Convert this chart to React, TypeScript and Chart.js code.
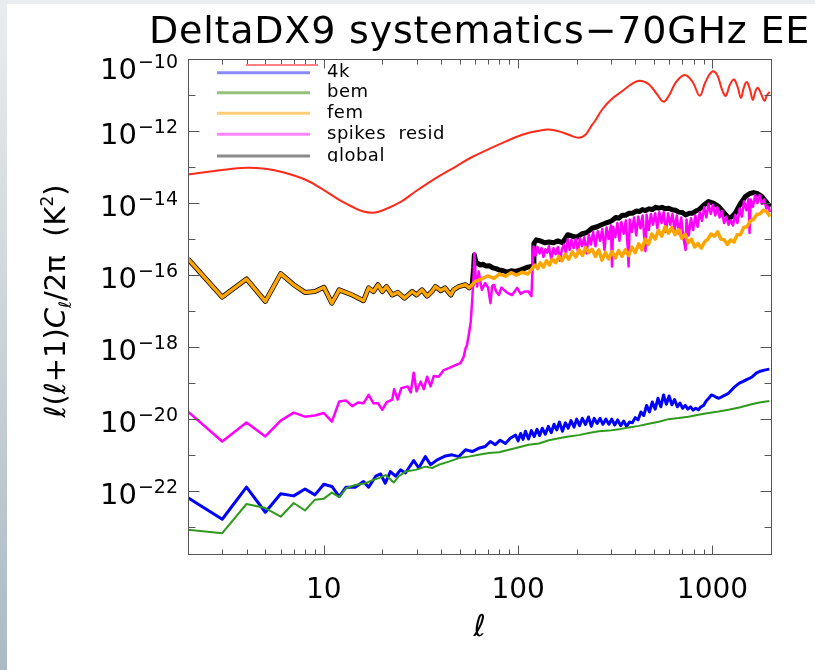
import React, { useEffect, useRef } from 'react';
import { Chart, registerables } from 'chart.js';

Chart.register(...registerables);

const TITLE = 'DeltaDX9 systematics\u221270GHz EE';
const X_TICK_LABELS = [10, 100, 1000];
const X_MINOR_TICKS = [2, 3, 4, 5, 6, 7, 8, 9, 20, 30, 40, 50, 60, 70, 80, 90, 200, 300, 400, 500, 600, 700, 800, 900];
const Y_DECADES = [-23, -22, -21, -20, -19, -18, -17, -16, -15, -14, -13, -12, -11, -10];
const Y_LABELED = [-10, -12, -14, -16, -18, -20, -22];
const LEGEND_NAMES = ['4k', 'bem', 'fem', 'spikes  resid', 'global'];
const LEGEND_COLORS = ['#8a8aff', '#93c07a', '#ffcc7a', '#ff85ff', '#8a8a8a'];

// EE reference spectrum (red)
const redEll = [2, 3, 4, 5, 6, 8, 10, 12, 14, 16, 18, 20, 25, 30, 39, 48, 58, 71, 86, 105, 128, 144, 162, 182, 205, 222, 240, 250, 270, 300, 340, 380, 420, 470, 520, 560, 600, 650, 720, 790, 860, 920, 1000, 1060, 1120, 1170, 1230, 1290, 1350, 1400, 1450, 1500, 1560, 1610, 1660, 1710, 1780, 1850, 1900, 1970];
const redVal = [6.2e-14, 8.3e-14, 9.5e-14, 8.9e-14, 7.4e-14, 4.5e-14, 2.3e-14, 1.23e-14, 7.9e-15, 5.8e-15, 5.4e-15, 6.2e-15, 1.1e-14, 2.2e-14, 5.5e-14, 1.05e-13, 1.9e-13, 3.2e-13, 5.1e-13, 7.9e-13, 1.02e-12, 1.1e-12, 9.8e-13, 7.9e-13, 6.5e-13, 7.9e-13, 1.48e-12, 2.0e-12, 3.9e-12, 7.4e-12, 1.23e-11, 1.95e-11, 2.5e-11, 2.0e-11, 1.02e-11, 6.5e-12, 1.02e-11, 2.3e-11, 3.6e-11, 2.3e-11, 9.5e-12, 2.3e-11, 4.5e-11, 3.5e-11, 1.4e-11, 9.5e-12, 1.95e-11, 2.7e-11, 1.6e-11, 8.3e-12, 1.6e-11, 2.3e-11, 1.4e-11, 7.4e-12, 1.23e-11, 1.6e-11, 1.07e-11, 6.9e-12, 9.5e-12, 1.23e-11];

// 4k (blue)
const k4Ell = [2, 3, 4, 5, 6, 7, 8, 9, 10, 11, 12, 13, 14.5, 16, 17, 18.5, 19.6, 20.7, 22, 23.4, 24.8, 26.3, 29, 30.8, 33.3, 35.4, 38.3, 42.3, 45.7, 49.5, 53.6, 58, 62.6, 67.7, 71.9, 76.3, 80.8, 86, 91, 97, 100, 103, 106, 109, 113, 117, 121, 125, 129, 133, 138, 143, 148, 153, 158, 163, 169, 175, 181, 187, 194, 200, 207, 214, 222, 230, 238, 246, 255, 264, 273, 283, 293, 303, 314, 325, 337, 349, 361, 374, 387, 400, 414, 428, 443, 458, 474, 490, 507, 524, 542, 560, 579, 598, 618, 638, 659, 680, 702, 724, 747, 771, 795, 820, 846, 872, 900, 928, 957, 987, 1017, 1050, 1080, 1140, 1209, 1290, 1374, 1440, 1514, 1560, 1604, 1680, 1743, 1850, 1961];
const k4Val = [6.6e-23, 1.66e-23, 1.29e-22, 2.6e-23, 8.5e-23, 7.4e-23, 1.15e-22, 7.9e-23, 1.55e-22, 1.35e-22, 7.1e-23, 1.29e-22, 1.29e-22, 1.86e-22, 1.29e-22, 2.6e-22, 3.0e-22, 1.66e-22, 3.5e-22, 2.6e-22, 3.9e-22, 3.2e-22, 7.1e-22, 4.4e-22, 9.1e-22, 5.4e-22, 7.4e-22, 9.5e-22, 1.02e-21, 9.1e-22, 1.41e-21, 1.26e-21, 1.55e-21, 1.74e-21, 2.4e-21, 1.95e-21, 2.6e-21, 2.1e-21, 2.95e-21, 3.6e-21, 2.5e-21, 4.0e-21, 2.75e-21, 4.6e-21, 2.8e-21, 4.8e-21, 3.3e-21, 5.2e-21, 3.5e-21, 5.6e-21, 3.8e-21, 6.3e-21, 4.2e-21, 7.2e-21, 5.0e-21, 8.3e-21, 4.6e-21, 7.9e-21, 5.6e-21, 9.1e-21, 6.0e-21, 1.0e-20, 6.6e-21, 1.05e-20, 7.1e-21, 1.15e-20, 6.3e-21, 1.05e-20, 7.6e-21, 1.05e-20, 7.2e-21, 1.0e-20, 7.2e-21, 1.0e-20, 6.9e-21, 9.5e-21, 6.6e-21, 8.9e-21, 6.3e-21, 8.3e-21, 7.9e-21, 1.1e-20, 9.5e-21, 1.58e-20, 1.26e-20, 2.4e-20, 1.58e-20, 3.0e-20, 1.9e-20, 3.8e-20, 2.2e-20, 4.7e-20, 2.6e-20, 4.4e-20, 2.5e-20, 3.5e-20, 2.2e-20, 2.8e-20, 2.0e-20, 2.4e-20, 1.9e-20, 2.2e-20, 1.78e-20, 2.0e-20, 1.82e-20, 2.2e-20, 2.4e-20, 3.2e-20, 3.8e-20, 4.7e-20, 4.4e-20, 4.0e-20, 3.8e-20, 4.4e-20, 5.2e-20, 7.6e-20, 1.0e-19, 1.12e-19, 1.29e-19, 1.38e-19, 1.51e-19, 1.9e-19, 2.1e-19, 2.3e-19, 2.45e-19];

// bem (green)
const bemEll = [2, 3, 4, 5, 6, 7, 8, 9, 10, 11, 12, 13, 14.5, 16.4, 17.7, 19.2, 20.8, 22.9, 24.3, 26.3, 29.7, 33.3, 36.1, 39, 44, 49.5, 55.7, 62.6, 70.6, 79.6, 89.8, 101, 113, 128, 144, 162, 182, 205, 231, 260, 293, 330, 371, 418, 470, 529, 594, 669, 752, 847, 953, 1074, 1209, 1374, 1551, 1743, 1961];
const bemVal = [8.5e-24, 6.8e-24, 4.4e-23, 3.4e-23, 1.95e-23, 4.7e-23, 2.9e-23, 5.8e-23, 6.2e-23, 9.1e-23, 6.8e-23, 1.2e-22, 1.48e-22, 1.66e-22, 2.0e-22, 2.3e-22, 2.8e-22, 1.74e-22, 2.6e-22, 3.5e-22, 3.9e-22, 4.8e-22, 4.4e-22, 5.4e-22, 6.6e-22, 8.3e-22, 9.1e-22, 1.02e-21, 1.15e-21, 1.2e-21, 1.41e-21, 1.66e-21, 1.95e-21, 2.1e-21, 2.6e-21, 2.95e-21, 3.3e-21, 3.6e-21, 4.1e-21, 4.6e-21, 4.8e-21, 5.2e-21, 5.9e-21, 6.5e-21, 7.4e-21, 8.5e-21, 1.0e-20, 1.07e-20, 1.17e-20, 1.32e-20, 1.48e-20, 1.62e-20, 1.82e-20, 2.1e-20, 2.5e-20, 2.9e-20, 3.2e-20];

// fem (orange)
const femEll = [2, 3, 4, 5, 6, 7, 8, 9, 10, 11, 12, 14, 16, 17, 18, 19, 20, 21, 22.5, 24, 26, 28.5, 30, 32, 34, 36, 37.5, 40, 42, 45, 46.5, 49.5, 53.5, 56, 58, 60, 65, 70, 75, 80, 86, 92, 98, 105, 112, 118, 122, 126, 130, 135, 140, 145, 150, 156, 162, 168, 175, 182, 190, 198, 206, 214, 222, 231, 240, 250, 260, 270, 281, 292, 304, 316, 329, 342, 356, 370, 385, 400, 417, 433, 450, 468, 487, 507, 527, 548, 570, 593, 617, 642, 668, 695, 722, 750, 780, 810, 842, 875, 910, 946, 984, 1023, 1063, 1105, 1148, 1193, 1240, 1289, 1340, 1392, 1447, 1504, 1563, 1625, 1689, 1755, 1824, 1896, 1940, 1975];
const femVal = [2.8e-16, 2.45e-17, 7.8e-17, 1.86e-17, 1.1e-16, 5.4e-17, 3.3e-17, 3.5e-17, 4.6e-17, 1.66e-17, 3.9e-17, 2.8e-17, 1.95e-17, 4.4e-17, 3.5e-17, 5.4e-17, 3.5e-17, 4.8e-17, 2.8e-17, 3.3e-17, 2.3e-17, 3.5e-17, 2.8e-17, 3.9e-17, 2.6e-17, 3.5e-17, 4.8e-17, 3.7e-17, 4.4e-17, 2.8e-17, 3.9e-17, 4.8e-17, 5.4e-17, 4.4e-17, 5.4e-17, 6.6e-17, 7.9e-17, 9.5e-17, 8.1e-17, 1.07e-16, 9.3e-17, 1.17e-16, 1.0e-16, 1.2e-16, 1.07e-16, 1.51e-16, 1.9e-16, 1.51e-16, 2.2e-16, 1.66e-16, 2.5e-16, 1.9e-16, 2.8e-16, 2.2e-16, 3.3e-16, 2.5e-16, 3.8e-16, 2.75e-16, 4.4e-16, 3.2e-16, 5.0e-16, 3.5e-16, 5.8e-16, 4.2e-16, 5.2e-16, 3.3e-16, 5.0e-16, 2.6e-16, 4.2e-16, 2.8e-16, 4.5e-16, 3.0e-16, 4.8e-16, 3.3e-16, 5.0e-16, 3.5e-16, 6.0e-16, 4.2e-16, 7.4e-16, 5.0e-16, 1.0e-15, 7.1e-16, 1.38e-15, 1.0e-15, 1.74e-15, 1.2e-15, 2.2e-15, 1.45e-15, 2.1e-15, 1.32e-15, 1.82e-15, 1.05e-15, 1.38e-15, 7.9e-16, 1.0e-15, 6.0e-16, 7.6e-16, 5.6e-16, 8.3e-16, 1.0e-15, 1.38e-15, 1.2e-15, 1.58e-15, 1.0e-15, 9.5e-16, 7.1e-16, 9.5e-16, 8.3e-16, 1.32e-15, 1.32e-15, 2.1e-15, 2.2e-15, 3.2e-15, 3.5e-15, 4.8e-15, 5.0e-15, 6.3e-15, 5.8e-15, 5.0e-15, 4.2e-15];

// spikes resid (magenta)
const spkEll = [2, 3, 4, 5, 6, 7, 8, 9, 10, 11, 12, 13, 14, 15, 16, 17, 18, 19, 20, 21, 22.5, 23, 24, 25, 27, 28, 29, 30, 31.5, 32.7, 34, 35.4, 36.8, 39, 41.4, 44, 46.6, 50.5, 52.5, 53.6, 54.5, 55.7, 57, 58, 59, 59.5, 60.5, 61.5, 62.6, 64, 65, 67.7, 70, 72, 73.5, 75, 77, 79.6, 82, 84.4, 88, 93, 98.8, 103, 108, 113, 117, 120, 123, 126, 129, 132, 135, 138, 141, 144, 148, 152, 156, 160, 164, 168, 172, 176, 180, 184, 188, 193, 198, 203, 208, 213, 219, 225, 231, 237, 243, 250, 257, 264, 271, 278, 285, 292, 300, 304, 308, 316, 324, 332, 340, 349, 358, 366, 370, 375, 385, 395, 405, 415, 426, 437, 447, 452, 458, 470, 482, 494, 507, 520, 533, 547, 561, 576, 591, 606, 622, 638, 655, 672, 690, 708, 727, 735, 755, 775, 795, 816, 838, 860, 883, 906, 930, 954, 980, 1006, 1033, 1060, 1088, 1117, 1147, 1178, 1209, 1241, 1274, 1308, 1343, 1379, 1416, 1454, 1493, 1533, 1551, 1573, 1615, 1658, 1702, 1748, 1795, 1843, 1892, 1942, 1975];
const spkVal = [1.62e-20, 2.4e-21, 8.1e-21, 3.3e-21, 9.1e-21, 1.51e-20, 1.17e-20, 1.26e-20, 1.48e-20, 8.5e-21, 3.1e-20, 3.3e-20, 2.3e-20, 2.9e-20, 2.75e-20, 4.7e-20, 2.75e-20, 2.75e-20, 1.82e-20, 2.9e-20, 3.5e-20, 6.8e-20, 3.5e-20, 7.2e-20, 8.1e-20, 5.5e-20, 1.95e-19, 5.9e-20, 1.1e-19, 6.8e-20, 1.51e-19, 8.1e-20, 1.58e-19, 1.51e-19, 2.3e-19, 2.6e-19, 3.0e-19, 3.6e-19, 5.5e-19, 9.3e-19, 1.12e-18, 2.2e-18, 5.0e-18, 2.0e-17, 1.0e-16, 4.1e-16, 7.9e-17, 4.8e-17, 1.26e-16, 6.3e-17, 3.9e-17, 6.0e-17, 4.5e-17, 1.66e-17, 5.0e-17, 5.4e-17, 3.5e-17, 2.8e-17, 4.5e-17, 3.9e-17, 3.2e-17, 2.8e-17, 4.4e-17, 3.0e-17, 3.5e-17, 3.5e-17, 2.6e-17, 6.2e-16, 3.5e-16, 6.0e-16, 4.0e-16, 5.6e-16, 3.2e-16, 5.2e-16, 4.2e-16, 6.3e-16, 2.8e-16, 5.6e-16, 3.8e-16, 6.0e-16, 2.5e-16, 5.2e-16, 7.1e-16, 4.0e-16, 1.0e-15, 5.0e-16, 9.5e-16, 5.6e-16, 1.0e-15, 4.5e-16, 1.05e-15, 6.3e-16, 1.12e-15, 4.0e-16, 1.32e-15, 7.1e-16, 1.58e-15, 6.3e-16, 1.66e-15, 8.9e-16, 1.9e-15, 5.0e-16, 2.1e-15, 1.0e-15, 2.4e-15, 1.74e-16, 2.2e-15, 1.12e-15, 2.8e-15, 8.9e-16, 3.0e-15, 1.41e-15, 3.3e-15, 6.3e-16, 1.74e-16, 3.5e-15, 1.58e-15, 4.0e-15, 1.26e-15, 4.2e-15, 2.0e-15, 4.5e-15, 8.9e-16, 4.6e-16, 4.7e-15, 1.78e-15, 5.0e-15, 2.5e-15, 5.2e-15, 2.0e-15, 5.6e-15, 2.8e-15, 5.6e-15, 1.58e-15, 5.2e-15, 2.5e-15, 5.0e-15, 1.78e-15, 4.5e-15, 1.41e-15, 4.0e-15, 1.12e-15, 5.0e-16, 3.5e-15, 1.26e-15, 3.8e-15, 1.78e-15, 4.5e-15, 2.2e-15, 5.6e-15, 3.2e-15, 7.6e-15, 4.0e-15, 9.5e-15, 5.0e-15, 8.9e-15, 4.5e-15, 7.6e-15, 4.0e-15, 6.0e-15, 2.8e-15, 4.2e-15, 2.5e-15, 3.3e-15, 2.4e-15, 4.7e-15, 2.8e-15, 7.1e-15, 4.2e-15, 1.12e-14, 6.3e-15, 1.32e-14, 1.48e-15, 1.26e-14, 7.9e-15, 1.66e-14, 1.0e-14, 1.66e-14, 9.5e-15, 1.26e-14, 7.1e-15, 7.9e-15, 5.6e-15];

// global (black)
const gloEll = [2, 3, 4, 5, 6, 7, 8, 9, 10, 11, 12, 14, 16, 17, 18, 19, 20, 21, 22.5, 24, 26, 28.5, 30, 32, 34, 36, 37.5, 40, 42, 45, 46.5, 49.5, 53.5, 56, 58, 59, 59.5, 60.5, 62, 64, 66, 68, 71, 74, 77, 80, 84, 88, 92, 97, 102, 107, 112, 117, 119.5, 120.5, 124, 130, 137, 144, 152, 160, 169, 175, 180, 190, 200, 212, 225, 240, 255, 268, 281, 295, 305, 318, 330, 344, 357, 372, 387, 405, 420, 436, 452, 470, 490, 510, 529, 550, 570, 595, 620, 645, 670, 700, 727, 760, 790, 820, 850, 900, 954, 1010, 1074, 1140, 1209, 1260, 1308, 1390, 1475, 1550, 1627, 1710, 1796, 1880, 1975];
const gloVal = [2.8e-16, 2.45e-17, 7.8e-17, 1.86e-17, 1.1e-16, 5.4e-17, 3.3e-17, 3.5e-17, 4.6e-17, 1.66e-17, 3.9e-17, 2.8e-17, 1.95e-17, 4.4e-17, 3.5e-17, 5.4e-17, 3.5e-17, 4.8e-17, 2.8e-17, 3.3e-17, 2.3e-17, 3.5e-17, 2.8e-17, 3.9e-17, 2.6e-17, 3.5e-17, 4.8e-17, 3.7e-17, 4.4e-17, 2.8e-17, 3.9e-17, 4.8e-17, 5.4e-17, 4.4e-17, 5.4e-17, 1.58e-16, 3.6e-16, 2.4e-16, 2.1e-16, 1.9e-16, 2.0e-16, 1.78e-16, 1.82e-16, 1.58e-16, 1.51e-16, 1.38e-16, 1.32e-16, 1.2e-16, 1.32e-16, 1.26e-16, 1.38e-16, 1.51e-16, 1.66e-16, 1.74e-16, 1.82e-16, 7.6e-16, 9.5e-16, 8.9e-16, 7.9e-16, 8.3e-16, 7.9e-16, 8.9e-16, 7.9e-16, 1.05e-15, 1.32e-15, 1.2e-15, 1.12e-15, 1.38e-15, 1.51e-15, 2.0e-15, 2.2e-15, 2.5e-15, 2.75e-15, 3.0e-15, 3.3e-15, 4.0e-15, 3.8e-15, 4.6e-15, 4.6e-15, 5.2e-15, 5.2e-15, 6.0e-15, 5.8e-15, 6.6e-15, 6.2e-15, 6.9e-15, 6.6e-15, 7.6e-15, 7.2e-15, 7.6e-15, 6.9e-15, 7.2e-15, 6.5e-15, 6.3e-15, 5.6e-15, 5.5e-15, 4.7e-15, 5.2e-15, 5.2e-15, 6.0e-15, 6.5e-15, 8.7e-15, 1.1e-14, 1.0e-14, 8.1e-15, 5.6e-15, 3.8e-15, 4.2e-15, 5.2e-15, 9.5e-15, 1.51e-14, 1.82e-14, 1.95e-14, 1.82e-14, 1.51e-14, 1.12e-14, 7.8e-15];

const FONT = "'DejaVu Sans', sans-serif";

const pts = (ell: number[], val: number[]) => ell.map((x, i) => ({ x, y: val[i] }));

const decor = {
  id: 'decor',
  afterDraw(chart: any) {
    const { ctx, chartArea: a, scales } = chart;
    const xs = scales.x;
    const ys = scales.y;
    const L = Math.round(a.left) + 0.5;
    const R = Math.round(a.right) + 0.5;
    const T = Math.round(a.top) + 0.5;
    const B = Math.round(a.bottom) + 0.5;
    ctx.save();
    // frame + ticks
    ctx.strokeStyle = '#555';
    ctx.lineWidth = 1;
    ctx.strokeRect(L, T, R - L, B - T);
    ctx.beginPath();
    const xt = (v: number, len: number) => {
      const px = Math.round(xs.getPixelForValue(v)) + 0.5;
      ctx.moveTo(px, B); ctx.lineTo(px, B - len);
      ctx.moveTo(px, T); ctx.lineTo(px, T + len);
    };
    X_MINOR_TICKS.forEach((v) => xt(v, 5));
    X_TICK_LABELS.forEach((v) => xt(v, 9));
    Y_DECADES.forEach((e) => {
      const py = Math.round(ys.getPixelForValue(Math.pow(10, e))) + 0.5;
      const len = e % 2 === 0 ? 11 : 7;
      ctx.moveTo(L, py); ctx.lineTo(L + len, py);
      ctx.moveTo(R, py); ctx.lineTo(R - len, py);
    });
    ctx.stroke();

    // y tick labels 10^-n
    ctx.fillStyle = '#000';
    ctx.textAlign = 'right';
    ctx.textBaseline = 'alphabetic';
    Y_LABELED.forEach((e) => {
      const py = ys.getPixelForValue(Math.pow(10, e));
      const cy = Math.max(py + 3, a.top + 10);
      const ex = '\u2212' + String(-e);
      ctx.font = `19px ${FONT}`;
      const w = ctx.measureText(ex).width;
      ctx.fillText(ex, 171, cy - 1);
      ctx.font = `29px ${FONT}`;
      ctx.fillText('10', 171 - w - 1, cy + 10);
    });

    // title
    ctx.textAlign = 'center';
    ctx.font = `38px ${FONT}`;
    (ctx as any).letterSpacing = '0.8px';
    ctx.fillText(TITLE, (a.left + a.right) / 2, 39);
    (ctx as any).letterSpacing = '0px';

    // x title
    ctx.font = `italic 30px ${FONT}`;
    ctx.textBaseline = 'middle';
    ctx.fillText('\u2113', (a.left + a.right) / 2, 624);

    // y title (rich text, rotated)
    const segs: [string, string, number][] = [
      ['\u2113(\u2113+1)', `29px ${FONT}`, 0],
      ['C', `italic 29px ${FONT}`, 0],
      ['\u2113', `17px ${FONT}`, 6],
      ['/2\u03c0  (K', `29px ${FONT}`, 0],
      ['2', `17px ${FONT}`, -12],
      [')', `29px ${FONT}`, 0],
    ];
    let total = 0;
    const widths = segs.map(([t, f]) => { ctx.font = f; const w = ctx.measureText(t).width; total += w; return w; });
    ctx.save();
    ctx.translate(48, 297);
    ctx.rotate(-Math.PI / 2);
    ctx.textAlign = 'left';
    ctx.textBaseline = 'alphabetic';
    let xx = -total / 2;
    segs.forEach(([t, f, dy], i) => { ctx.font = f; ctx.fillText(t, xx, 10 + dy); xx += widths[i]; });
    ctx.restore();

    // legend
    ctx.save();
    ctx.beginPath();
    ctx.rect(a.left + 2, a.top + 2, 260, 158 - a.top - 2);
    ctx.clip();
    ctx.strokeStyle = '#ff8080';
    ctx.lineWidth = 2;
    ctx.beginPath(); ctx.moveTo(239, 61); ctx.lineTo(311, 61); ctx.stroke();
    ctx.font = `18px ${FONT}`;
    (ctx as any).letterSpacing = '0.5px';
    ctx.textAlign = 'left';
    ctx.textBaseline = 'middle';
    const ly = [68.7, 88.7, 109.3, 130.3, 152];
    LEGEND_NAMES.forEach((n, i) => {
      ctx.strokeStyle = LEGEND_COLORS[i];
      ctx.lineWidth = 3;
      ctx.beginPath(); ctx.moveTo(210, ly[i]); ctx.lineTo(303, ly[i]); ctx.stroke();
      ctx.fillStyle = '#000';
      ctx.fillText(n, 320, ly[i]);
    });
    ctx.restore();
    ctx.restore();
  },
};

export default function App() {
  const ref = useRef<HTMLCanvasElement | null>(null);
  useEffect(() => {
    if (!ref.current) return;
    const line = (label: string, data: any[], color: string, width: number, order: number, tension = 0) => ({
      label, data, borderColor: color, backgroundColor: color, borderWidth: width, pointRadius: 0,
      fill: false, tension, order, borderJoinStyle: 'round' as const,
    });
    const chart = new Chart(ref.current, {
      type: 'line',
      data: {
        datasets: [
          line('bem', pts(bemEll, bemVal), '#2f9a1c', 2, 1),
          line('4k', pts(k4Ell, k4Val), '#0000ff', 3, 2),
          line('fem', pts(femEll, femVal), '#ffa500', 3.5, 3),
          line('spikes resid', pts(spkEll, spkVal), '#ff00ff', 2.5, 4),
          line('global', pts(gloEll, gloVal), '#000000', 5, 5),
          line('EE', pts(redEll, redVal), '#ff2a1a', 2, 6, 0.4),
        ],
      },
      options: {
        responsive: false,
        animation: false,
        layout: { padding: { top: 55, right: 44, bottom: 0, left: 0 } },
        plugins: { legend: { display: false }, tooltip: { enabled: false }, title: { display: false } },
        scales: {
          x: {
            type: 'logarithmic', min: 2, max: 2000,
            grid: { display: false, drawTicks: false }, border: { display: false },
            ticks: {
              autoSkip: false, maxRotation: 0, padding: 20, color: '#000',
              font: { family: FONT, size: 28 },
              callback: (v: any) => {
                const l = Math.log10(Number(v));
                return Math.abs(l - Math.round(l)) < 1e-6 && X_TICK_LABELS.includes(Math.round(Number(v))) ? String(Math.round(Number(v))) : '';
              },
            },
            afterFit: (s: any) => { s.height = 116; },
          },
          y: {
            type: 'logarithmic', min: 1.8e-24, max: 1e-10,
            grid: { display: false, drawTicks: false }, border: { display: false },
            ticks: { display: false },
            afterBuildTicks: (s: any) => { s.ticks = Y_DECADES.map((e) => ({ value: Math.pow(10, e) })); },
            afterFit: (s: any) => { s.width = 181; },
          },
        },
      } as any,
      plugins: [decor],
    });
    return () => chart.destroy();
  }, []);
  return (
    <div style={{ position: 'fixed', left: 0, top: 0, width: 815, height: 670, background: 'linear-gradient(#e9edef, #acbac2)' }}>
      <div style={{ position: 'absolute', left: 7, top: 4, width: 808, height: 666, background: '#fff' }}>
        <canvas ref={ref} width={808} height={666} style={{ display: 'block' }} />
      </div>
    </div>
  );
}
